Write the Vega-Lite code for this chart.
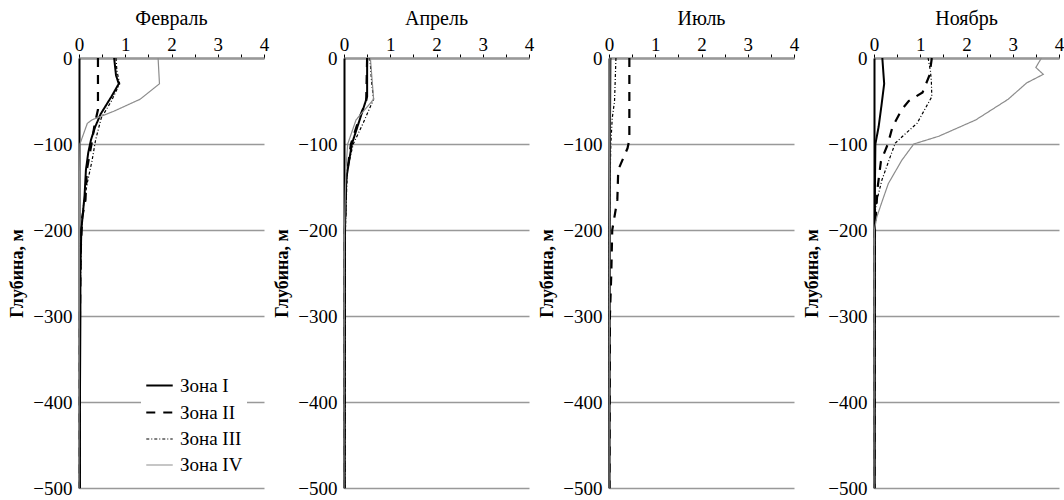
{
  "$schema": "https://vega.github.io/schema/vega-lite/v6.json",
  "background": "white",
  "padding": {"left": 8, "top": 9, "right": 2, "bottom": 5},
  "spacing": 80,
  "bounds": "flush",
  "config": {
    "font": "Liberation Serif",
    "view": {"stroke": null},
    "axis": {"labelFont": "Liberation Serif", "labelFontSize": 19, "labelColor": "black", "titleFont": "Liberation Serif", "titleColor": "black"},
    "title": {"font": "Liberation Serif", "fontSize": 20, "fontWeight": "normal", "color": "black", "offset": 6},
    "legend": {"labelFont": "Liberation Serif", "labelFontSize": 19, "labelColor": "black", "symbolType": "stroke", "symbolSize": 700, "rowPadding": 2, "labelOffset": 6, "fillColor": "white", "padding": 4}
  },
  "datasets": {
    "d": [
      {"month": "Февраль", "zone": "Зона I", "depth": 0, "value": 0.76},
      {"month": "Февраль", "zone": "Зона I", "depth": -10, "value": 0.78},
      {"month": "Февраль", "zone": "Зона I", "depth": -20, "value": 0.8},
      {"month": "Февраль", "zone": "Зона I", "depth": -30, "value": 0.86},
      {"month": "Февраль", "zone": "Зона I", "depth": -45, "value": 0.7},
      {"month": "Февраль", "zone": "Зона I", "depth": -65, "value": 0.47},
      {"month": "Февраль", "zone": "Зона I", "depth": -80, "value": 0.35},
      {"month": "Февраль", "zone": "Зона I", "depth": -95, "value": 0.26},
      {"month": "Февраль", "zone": "Зона I", "depth": -110, "value": 0.2},
      {"month": "Февраль", "zone": "Зона I", "depth": -130, "value": 0.15},
      {"month": "Февраль", "zone": "Зона I", "depth": -160, "value": 0.12},
      {"month": "Февраль", "zone": "Зона I", "depth": -200, "value": 0.05},
      {"month": "Февраль", "zone": "Зона I", "depth": -250, "value": 0.03},
      {"month": "Февраль", "zone": "Зона I", "depth": -300, "value": 0.03},
      {"month": "Февраль", "zone": "Зона I", "depth": -400, "value": 0.02},
      {"month": "Февраль", "zone": "Зона I", "depth": -500, "value": 0.02},
      {"month": "Февраль", "zone": "Зона II", "depth": 0, "value": 0.41},
      {"month": "Февраль", "zone": "Зона II", "depth": -30, "value": 0.41},
      {"month": "Февраль", "zone": "Зона II", "depth": -60, "value": 0.41},
      {"month": "Февраль", "zone": "Зона II", "depth": -80, "value": 0.33},
      {"month": "Февраль", "zone": "Зона II", "depth": -100, "value": 0.27},
      {"month": "Февраль", "zone": "Зона II", "depth": -130, "value": 0.17},
      {"month": "Февраль", "zone": "Зона II", "depth": -165, "value": 0.14},
      {"month": "Февраль", "zone": "Зона II", "depth": -185, "value": 0.07},
      {"month": "Февраль", "zone": "Зона II", "depth": -220, "value": 0.04},
      {"month": "Февраль", "zone": "Зона II", "depth": -300, "value": 0.02},
      {"month": "Февраль", "zone": "Зона II", "depth": -500, "value": 0.01},
      {"month": "Февраль", "zone": "Зона III", "depth": 0, "value": 0.8},
      {"month": "Февраль", "zone": "Зона III", "depth": -15, "value": 0.82},
      {"month": "Февраль", "zone": "Зона III", "depth": -30, "value": 0.88},
      {"month": "Февраль", "zone": "Зона III", "depth": -50, "value": 0.7},
      {"month": "Февраль", "zone": "Зона III", "depth": -70, "value": 0.48},
      {"month": "Февраль", "zone": "Зона III", "depth": -95, "value": 0.36},
      {"month": "Февраль", "zone": "Зона III", "depth": -120, "value": 0.28},
      {"month": "Февраль", "zone": "Зона III", "depth": -145, "value": 0.18},
      {"month": "Февраль", "zone": "Зона III", "depth": -170, "value": 0.1},
      {"month": "Февраль", "zone": "Зона III", "depth": -200, "value": 0.05},
      {"month": "Февраль", "zone": "Зона III", "depth": -300, "value": 0.02},
      {"month": "Февраль", "zone": "Зона III", "depth": -500, "value": 0.01},
      {"month": "Февраль", "zone": "Зона IV", "depth": 0, "value": 1.71},
      {"month": "Февраль", "zone": "Зона IV", "depth": -30, "value": 1.74},
      {"month": "Февраль", "zone": "Зона IV", "depth": -48, "value": 1.32},
      {"month": "Февраль", "zone": "Зона IV", "depth": -62, "value": 0.75},
      {"month": "Февраль", "zone": "Зона IV", "depth": -72, "value": 0.28},
      {"month": "Февраль", "zone": "Зона IV", "depth": -76, "value": 0.18},
      {"month": "Февраль", "zone": "Зона IV", "depth": -100, "value": 0.02},
      {"month": "Февраль", "zone": "Зона IV", "depth": -150, "value": 0.01},
      {"month": "Февраль", "zone": "Зона IV", "depth": -500, "value": 0},

      {"month": "Апрель", "zone": "Зона I", "depth": 0, "value": 0.5},
      {"month": "Апрель", "zone": "Зона I", "depth": -45, "value": 0.5},
      {"month": "Апрель", "zone": "Зона I", "depth": -70, "value": 0.35},
      {"month": "Апрель", "zone": "Зона I", "depth": -100, "value": 0.17},
      {"month": "Апрель", "zone": "Зона I", "depth": -140, "value": 0.05},
      {"month": "Апрель", "zone": "Зона I", "depth": -200, "value": 0.02},
      {"month": "Апрель", "zone": "Зона I", "depth": -500, "value": 0.01},
      {"month": "Апрель", "zone": "Зона II", "depth": 0, "value": 0.5},
      {"month": "Апрель", "zone": "Зона II", "depth": -50, "value": 0.48},
      {"month": "Апрель", "zone": "Зона II", "depth": -70, "value": 0.33},
      {"month": "Апрель", "zone": "Зона II", "depth": -100, "value": 0.15},
      {"month": "Апрель", "zone": "Зона II", "depth": -140, "value": 0.05},
      {"month": "Апрель", "zone": "Зона II", "depth": -200, "value": 0.02},
      {"month": "Апрель", "zone": "Зона II", "depth": -500, "value": 0.01},
      {"month": "Апрель", "zone": "Зона III", "depth": 0, "value": 0.56},
      {"month": "Апрель", "zone": "Зона III", "depth": -30, "value": 0.6},
      {"month": "Апрель", "zone": "Зона III", "depth": -48, "value": 0.64},
      {"month": "Апрель", "zone": "Зона III", "depth": -75, "value": 0.42},
      {"month": "Апрель", "zone": "Зона III", "depth": -100, "value": 0.2},
      {"month": "Апрель", "zone": "Зона III", "depth": -130, "value": 0.07},
      {"month": "Апрель", "zone": "Зона III", "depth": -200, "value": 0.03},
      {"month": "Апрель", "zone": "Зона III", "depth": -500, "value": 0.02},
      {"month": "Апрель", "zone": "Зона IV", "depth": 0, "value": 0.57},
      {"month": "Апрель", "zone": "Зона IV", "depth": -48, "value": 0.64},
      {"month": "Апрель", "zone": "Зона IV", "depth": -72, "value": 0.26},
      {"month": "Апрель", "zone": "Зона IV", "depth": -100, "value": 0.08},
      {"month": "Апрель", "zone": "Зона IV", "depth": -130, "value": 0.04},
      {"month": "Апрель", "zone": "Зона IV", "depth": -200, "value": 0.01},
      {"month": "Апрель", "zone": "Зона IV", "depth": -500, "value": 0},

      {"month": "Июль", "zone": "Зона I", "depth": 0, "value": 0.03},
      {"month": "Июль", "zone": "Зона I", "depth": -100, "value": 0.02},
      {"month": "Июль", "zone": "Зона I", "depth": -200, "value": 0.01},
      {"month": "Июль", "zone": "Зона I", "depth": -500, "value": 0},
      {"month": "Июль", "zone": "Зона II", "depth": 0, "value": 0.44},
      {"month": "Июль", "zone": "Зона II", "depth": -95, "value": 0.44},
      {"month": "Июль", "zone": "Зона II", "depth": -105, "value": 0.4},
      {"month": "Июль", "zone": "Зона II", "depth": -130, "value": 0.2},
      {"month": "Июль", "zone": "Зона II", "depth": -165, "value": 0.18},
      {"month": "Июль", "zone": "Зона II", "depth": -200, "value": 0.07},
      {"month": "Июль", "zone": "Зона II", "depth": -250, "value": 0.05},
      {"month": "Июль", "zone": "Зона II", "depth": -300, "value": 0.02},
      {"month": "Июль", "zone": "Зона II", "depth": -500, "value": 0.01},
      {"month": "Июль", "zone": "Зона III", "depth": 0, "value": 0.15},
      {"month": "Июль", "zone": "Зона III", "depth": -50, "value": 0.12},
      {"month": "Июль", "zone": "Зона III", "depth": -70, "value": 0.07},
      {"month": "Июль", "zone": "Зона III", "depth": -100, "value": 0.04},
      {"month": "Июль", "zone": "Зона III", "depth": -150, "value": 0.02},
      {"month": "Июль", "zone": "Зона III", "depth": -200, "value": 0.01},
      {"month": "Июль", "zone": "Зона III", "depth": -500, "value": 0},
      {"month": "Июль", "zone": "Зона IV", "depth": 0, "value": 0.02},
      {"month": "Июль", "zone": "Зона IV", "depth": -500, "value": 0},

      {"month": "Ноябрь", "zone": "Зона I", "depth": 0, "value": 0.18},
      {"month": "Ноябрь", "zone": "Зона I", "depth": -15, "value": 0.2},
      {"month": "Ноябрь", "zone": "Зона I", "depth": -30, "value": 0.22},
      {"month": "Ноябрь", "zone": "Зона I", "depth": -60, "value": 0.15},
      {"month": "Ноябрь", "zone": "Зона I", "depth": -80, "value": 0.1},
      {"month": "Ноябрь", "zone": "Зона I", "depth": -100, "value": 0.03},
      {"month": "Ноябрь", "zone": "Зона I", "depth": -150, "value": 0.02},
      {"month": "Ноябрь", "zone": "Зона I", "depth": -500, "value": 0.01},
      {"month": "Ноябрь", "zone": "Зона II", "depth": 0, "value": 1.25},
      {"month": "Ноябрь", "zone": "Зона II", "depth": -20, "value": 1.2},
      {"month": "Ноябрь", "zone": "Зона II", "depth": -40, "value": 1.05},
      {"month": "Ноябрь", "zone": "Зона II", "depth": -50, "value": 0.75},
      {"month": "Ноябрь", "zone": "Зона II", "depth": -60, "value": 0.6},
      {"month": "Ноябрь", "zone": "Зона II", "depth": -80, "value": 0.4},
      {"month": "Ноябрь", "zone": "Зона II", "depth": -100, "value": 0.3},
      {"month": "Ноябрь", "zone": "Зона II", "depth": -120, "value": 0.15},
      {"month": "Ноябрь", "zone": "Зона II", "depth": -150, "value": 0.08},
      {"month": "Ноябрь", "zone": "Зона II", "depth": -200, "value": 0.02},
      {"month": "Ноябрь", "zone": "Зона II", "depth": -500, "value": 0.01},
      {"month": "Ноябрь", "zone": "Зона III", "depth": 0, "value": 1.17},
      {"month": "Ноябрь", "zone": "Зона III", "depth": -15, "value": 1.22},
      {"month": "Ноябрь", "zone": "Зона III", "depth": -27, "value": 1.24},
      {"month": "Ноябрь", "zone": "Зона III", "depth": -45, "value": 1.25},
      {"month": "Ноябрь", "zone": "Зона III", "depth": -76, "value": 0.93},
      {"month": "Ноябрь", "zone": "Зона III", "depth": -88, "value": 0.68},
      {"month": "Ноябрь", "zone": "Зона III", "depth": -99, "value": 0.46},
      {"month": "Ноябрь", "zone": "Зона III", "depth": -115, "value": 0.35},
      {"month": "Ноябрь", "zone": "Зона III", "depth": -142, "value": 0.17},
      {"month": "Ноябрь", "zone": "Зона III", "depth": -166, "value": 0.06},
      {"month": "Ноябрь", "zone": "Зона III", "depth": -181, "value": 0.02},
      {"month": "Ноябрь", "zone": "Зона III", "depth": -500, "value": 0.01},
      {"month": "Ноябрь", "zone": "Зона IV", "depth": 0, "value": 3.62},
      {"month": "Ноябрь", "zone": "Зона IV", "depth": -11, "value": 3.5},
      {"month": "Ноябрь", "zone": "Зона IV", "depth": -19, "value": 3.66},
      {"month": "Ноябрь", "zone": "Зона IV", "depth": -29, "value": 3.3},
      {"month": "Ноябрь", "zone": "Зона IV", "depth": -48, "value": 2.9},
      {"month": "Ноябрь", "zone": "Зона IV", "depth": -72, "value": 2.2},
      {"month": "Ноябрь", "zone": "Зона IV", "depth": -91, "value": 1.4},
      {"month": "Ноябрь", "zone": "Зона IV", "depth": -100, "value": 0.86},
      {"month": "Ноябрь", "zone": "Зона IV", "depth": -119, "value": 0.6},
      {"month": "Ноябрь", "zone": "Зона IV", "depth": -146, "value": 0.31},
      {"month": "Ноябрь", "zone": "Зона IV", "depth": -166, "value": 0.18},
      {"month": "Ноябрь", "zone": "Зона IV", "depth": -185, "value": 0.06},
      {"month": "Ноябрь", "zone": "Зона IV", "depth": -200, "value": 0.01},
      {"month": "Ноябрь", "zone": "Зона IV", "depth": -500, "value": 0}
    ]
  },
  "resolve": {
    "scale": {"color": "independent", "strokeDash": "independent", "strokeWidth": "independent"},
    "legend": {"color": "independent", "strokeDash": "independent", "strokeWidth": "independent"}
  },
  "hconcat": [
    {
      "width": 185, "height": 430,
      "title": "Февраль",
      "data": {"name": "d"},
      "transform": [{"filter": "datum.month === 'Февраль'"}],
      "mark": {"type": "line"},
      "encoding": {
        "x": {"field": "value", "type": "quantitative", "scale": {"domain": [0, 4], "nice": false},
          "axis": {"orient": "top", "values": [0, 0.5, 1, 1.5, 2, 2.5, 3, 3.5, 4], "labelExpr": "datum.value % 1 === 0 ? format(datum.value, 'd') : ''", "grid": false, "title": null, "domainColor": "#999999", "domainWidth": 2.5, "tickColor": "black", "tickSize": 4, "labelPadding": 0, "labelFlush": false}},
        "y": {"field": "depth", "type": "quantitative", "scale": {"domain": [-500, 0], "nice": false},
          "axis": {"values": [-500, -400, -300, -200, -100, 0], "title": "Глубина, м", "titleFontWeight": "bold", "titleFontSize": 18, "grid": true, "gridColor": "#999999", "gridWidth": 1.5, "domainColor": "black", "domainWidth": 2, "ticks": false, "labelPadding": 7, "titlePadding": 6}},
        "color": {"field": "zone", "type": "nominal", "scale": {"domain": ["Зона I", "Зона II", "Зона III", "Зона IV"], "range": ["black", "black", "black", "#8c8c8c"]},
          "legend": {"title": null, "orient": "none", "legendX": 62, "legendY": 309}},
        "strokeDash": {"field": "zone", "type": "nominal", "scale": {"domain": ["Зона I", "Зона II", "Зона III", "Зона IV"], "range": [[1, 0], [9, 8], [3, 2, 1, 2], [1, 0]]},
          "legend": {"title": null, "orient": "none", "legendX": 62, "legendY": 309}},
        "strokeWidth": {"field": "zone", "type": "nominal", "scale": {"type": "ordinal", "domain": ["Зона I", "Зона II", "Зона III", "Зона IV"], "range": [2, 2.2, 1.2, 1.2]},
          "legend": {"title": null, "orient": "none", "legendX": 62, "legendY": 309}},
        "order": {"field": "depth", "type": "quantitative", "sort": "descending"}
      }
    },
    {
      "width": 185, "height": 430,
      "title": "Апрель",
      "data": {"name": "d"},
      "transform": [{"filter": "datum.month === 'Апрель'"}],
      "mark": {"type": "line"},
      "encoding": {
        "x": {"field": "value", "type": "quantitative", "scale": {"domain": [0, 4], "nice": false},
          "axis": {"orient": "top", "values": [0, 0.5, 1, 1.5, 2, 2.5, 3, 3.5, 4], "labelExpr": "datum.value % 1 === 0 ? format(datum.value, 'd') : ''", "grid": false, "title": null, "domainColor": "#999999", "domainWidth": 2.5, "tickColor": "black", "tickSize": 4, "labelPadding": 0, "labelFlush": false}},
        "y": {"field": "depth", "type": "quantitative", "scale": {"domain": [-500, 0], "nice": false},
          "axis": {"values": [-500, -400, -300, -200, -100, 0], "title": "Глубина, м", "titleFontWeight": "bold", "titleFontSize": 18, "grid": true, "gridColor": "#999999", "gridWidth": 1.5, "domainColor": "black", "domainWidth": 2, "ticks": false, "labelPadding": 7, "titlePadding": 6}},
        "color": {"field": "zone", "type": "nominal", "scale": {"domain": ["Зона I", "Зона II", "Зона III", "Зона IV"], "range": ["black", "black", "black", "#8c8c8c"]}, "legend": null},
        "strokeDash": {"field": "zone", "type": "nominal", "scale": {"domain": ["Зона I", "Зона II", "Зона III", "Зона IV"], "range": [[1, 0], [9, 8], [3, 2, 1, 2], [1, 0]]}, "legend": null},
        "strokeWidth": {"field": "zone", "type": "nominal", "scale": {"type": "ordinal", "domain": ["Зона I", "Зона II", "Зона III", "Зона IV"], "range": [2, 2.2, 1.2, 1.2]}, "legend": null},
        "order": {"field": "depth", "type": "quantitative", "sort": "descending"}
      }
    },
    {
      "width": 185, "height": 430,
      "title": "Июль",
      "data": {"name": "d"},
      "transform": [{"filter": "datum.month === 'Июль'"}],
      "mark": {"type": "line"},
      "encoding": {
        "x": {"field": "value", "type": "quantitative", "scale": {"domain": [0, 4], "nice": false},
          "axis": {"orient": "top", "values": [0, 0.5, 1, 1.5, 2, 2.5, 3, 3.5, 4], "labelExpr": "datum.value % 1 === 0 ? format(datum.value, 'd') : ''", "grid": false, "title": null, "domainColor": "#999999", "domainWidth": 2.5, "tickColor": "black", "tickSize": 4, "labelPadding": 0, "labelFlush": false}},
        "y": {"field": "depth", "type": "quantitative", "scale": {"domain": [-500, 0], "nice": false},
          "axis": {"values": [-500, -400, -300, -200, -100, 0], "title": "Глубина, м", "titleFontWeight": "bold", "titleFontSize": 18, "grid": true, "gridColor": "#999999", "gridWidth": 1.5, "domainColor": "black", "domainWidth": 2, "ticks": false, "labelPadding": 7, "titlePadding": 6}},
        "color": {"field": "zone", "type": "nominal", "scale": {"domain": ["Зона I", "Зона II", "Зона III", "Зона IV"], "range": ["black", "black", "black", "#8c8c8c"]}, "legend": null},
        "strokeDash": {"field": "zone", "type": "nominal", "scale": {"domain": ["Зона I", "Зона II", "Зона III", "Зона IV"], "range": [[1, 0], [9, 8], [3, 2, 1, 2], [1, 0]]}, "legend": null},
        "strokeWidth": {"field": "zone", "type": "nominal", "scale": {"type": "ordinal", "domain": ["Зона I", "Зона II", "Зона III", "Зона IV"], "range": [2, 2.2, 1.2, 1.2]}, "legend": null},
        "order": {"field": "depth", "type": "quantitative", "sort": "descending"}
      }
    },
    {
      "width": 185, "height": 430,
      "title": "Ноябрь",
      "data": {"name": "d"},
      "transform": [{"filter": "datum.month === 'Ноябрь'"}],
      "mark": {"type": "line"},
      "encoding": {
        "x": {"field": "value", "type": "quantitative", "scale": {"domain": [0, 4], "nice": false},
          "axis": {"orient": "top", "values": [0, 0.5, 1, 1.5, 2, 2.5, 3, 3.5, 4], "labelExpr": "datum.value % 1 === 0 ? format(datum.value, 'd') : ''", "grid": false, "title": null, "domainColor": "#999999", "domainWidth": 2.5, "tickColor": "black", "tickSize": 4, "labelPadding": 0, "labelFlush": false}},
        "y": {"field": "depth", "type": "quantitative", "scale": {"domain": [-500, 0], "nice": false},
          "axis": {"values": [-500, -400, -300, -200, -100, 0], "title": "Глубина, м", "titleFontWeight": "bold", "titleFontSize": 18, "grid": true, "gridColor": "#999999", "gridWidth": 1.5, "domainColor": "black", "domainWidth": 2, "ticks": false, "labelPadding": 7, "titlePadding": 6}},
        "color": {"field": "zone", "type": "nominal", "scale": {"domain": ["Зона I", "Зона II", "Зона III", "Зона IV"], "range": ["black", "black", "black", "#8c8c8c"]}, "legend": null},
        "strokeDash": {"field": "zone", "type": "nominal", "scale": {"domain": ["Зона I", "Зона II", "Зона III", "Зона IV"], "range": [[1, 0], [9, 8], [3, 2, 1, 2], [1, 0]]}, "legend": null},
        "strokeWidth": {"field": "zone", "type": "nominal", "scale": {"type": "ordinal", "domain": ["Зона I", "Зона II", "Зона III", "Зона IV"], "range": [2, 2.2, 1.2, 1.2]}, "legend": null},
        "order": {"field": "depth", "type": "quantitative", "sort": "descending"}
      }
    }
  ]
}
